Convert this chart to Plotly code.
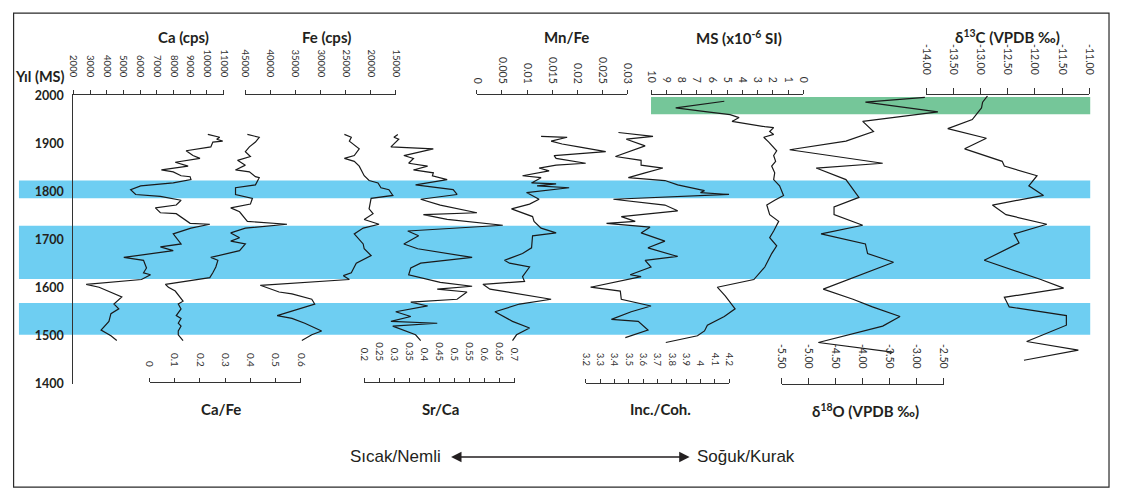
import plotly.graph_objects as go

# page is 1125x503 with an 8px body margin -> figure is 1109x487
PAGE_OFF = 8
W, H = 1125 - 2 * PAGE_OFF, 503 - 2 * PAGE_OFF
FONT = "Lato"

# ---------------- data ----------------
years_axis = [1400, 1500, 1600, 1700, 1800, 1900, 2000]

ca_year = [1919,1913,1909,1905,1903,1893,1885,1875,1869,1861,1853,1845,1841,1833,1831,1825,1818,1812,1804,1794,1790,1782,1772,1766,1756,1754,1734,1732,1724,1712,1691,1685,1677,1663,1657,1641,1631,1627,1617,1607,1601,1581,1566,1556,1546,1530,1512,1500,1490]
ca_val = [10050,10760,10580,10940,10350,10230,8750,9160,9580,8100,8870,7270,7980,8450,8990,9040,7980,6030,5430,5730,7210,8450,8160,6910,7210,8160,8990,10170,9040,7980,8450,7210,7980,5020,6200,6380,6200,6620,6080,2770,3540,4900,4430,4720,4250,4130,3660,4250,4600]

cafe_year = [1919,1913,1903,1893,1883,1873,1865,1855,1845,1841,1831,1829,1814,1808,1794,1786,1774,1766,1758,1738,1732,1724,1714,1704,1697,1691,1677,1663,1657,1643,1631,1621,1607,1601,1593,1572,1566,1556,1542,1536,1526,1520,1510,1502,1490]
cafe_val = [0.388,0.435,0.420,0.396,0.380,0.400,0.349,0.380,0.341,0.396,0.420,0.435,0.420,0.341,0.341,0.408,0.400,0.322,0.357,0.388,0.545,0.380,0.322,0.357,0.322,0.380,0.357,0.243,0.271,0.263,0.251,0.239,0.063,0.075,0.102,0.133,0.114,0.125,0.106,0.125,0.114,0.125,0.114,0.114,0.133]

fe_year = [1919,1913,1905,1889,1875,1869,1863,1853,1833,1823,1818,1808,1804,1792,1786,1764,1754,1742,1732,1724,1712,1691,1681,1667,1651,1631,1625,1617,1605,1591,1587,1576,1566,1542,1536,1526,1510,1502,1490]
fe_val = [25260,23880,24270,22300,23290,25260,23290,22300,21310,20330,18550,17960,16380,15590,19930,20330,19540,21310,18350,21510,23290,21510,21310,19930,22890,23880,25460,24270,42040,38290,35720,31770,31180,38680,35720,33160,29800,31770,33750]

srca_year = [1919,1913,1909,1893,1889,1875,1869,1859,1853,1845,1839,1833,1825,1814,1804,1794,1784,1772,1756,1752,1742,1730,1718,1708,1691,1681,1663,1651,1641,1627,1611,1603,1597,1591,1576,1570,1562,1550,1540,1530,1526,1520,1502,1490]
srca_val = [0.312,0.299,0.315,0.289,0.430,0.332,0.364,0.348,0.411,0.364,0.430,0.427,0.476,0.371,0.496,0.509,0.388,0.453,0.575,0.397,0.476,0.661,0.345,0.381,0.332,0.378,0.559,0.388,0.355,0.348,0.453,0.559,0.443,0.542,0.509,0.355,0.411,0.305,0.355,0.289,0.443,0.295,0.371,0.388]

mnfe_year = [1915,1913,1905,1899,1893,1883,1875,1869,1859,1855,1849,1843,1833,1829,1818,1816,1812,1808,1798,1784,1774,1764,1748,1738,1724,1714,1708,1683,1671,1657,1651,1643,1623,1613,1607,1597,1576,1566,1550,1536,1530,1516,1502,1490]
mnfe_val = [0.0128,0.0180,0.0148,0.0170,0.0203,0.0257,0.0154,0.0158,0.0217,0.0158,0.0124,0.0144,0.0091,0.0128,0.0109,0.0158,0.0120,0.0184,0.0099,0.0124,0.0105,0.0069,0.0111,0.0114,0.0128,0.0158,0.0111,0.0109,0.0091,0.0055,0.0065,0.0105,0.0091,0.0095,0.0012,0.0026,0.0148,0.0085,0.0036,0.0059,0.0071,0.0105,0.0079,0.0071]

inc_year = [1923,1915,1909,1895,1873,1865,1855,1849,1839,1829,1823,1814,1802,1798,1794,1784,1772,1760,1748,1738,1734,1726,1714,1697,1683,1665,1657,1643,1627,1623,1601,1593,1576,1562,1550,1534,1530,1512,1496]
inc_val = [3.428,3.669,3.483,3.614,3.407,3.586,3.586,3.738,3.614,3.497,3.752,3.841,4.028,4.000,4.200,3.393,3.752,3.841,3.448,3.545,3.345,3.648,3.586,3.752,3.634,3.841,3.614,3.655,3.510,3.586,3.234,3.441,3.448,3.655,3.517,3.379,3.566,3.634,3.476]

ms_year = [1988,1974,1966,1960,1954,1946,1935,1933,1925,1919,1913,1903,1885,1875,1863,1853,1839,1825,1812,1792,1782,1772,1752,1738,1718,1704,1687,1671,1643,1617,1601,1583,1556,1540,1522,1510,1500,1486]
ms_val = [5.19,8.38,6.30,4.81,4.22,4.68,2.53,1.95,2.21,1.95,2.60,2.27,1.75,1.95,1.82,2.08,1.88,1.95,1.56,1.30,1.88,2.40,2.21,1.62,1.95,2.21,1.75,2.08,2.53,3.25,5.65,5.13,4.48,5.19,6.30,6.49,6.95,9.03]

d18o_year = [1996,1986,1966,1946,1925,1905,1887,1859,1849,1825,1788,1768,1752,1730,1712,1691,1671,1653,1597,1576,1560,1540,1520,1486,1466,1462]
d18o_val = [-2.85,-3.95,-2.61,-4.00,-3.80,-4.31,-5.35,-3.63,-4.86,-4.31,-4.07,-4.53,-4.53,-4.00,-4.77,-3.95,-3.91,-3.43,-4.73,-4.18,-3.82,-3.31,-3.63,-4.82,-3.45,-3.50]

d13c_year = [1999,1986,1974,1950,1931,1911,1889,1863,1853,1833,1812,1792,1772,1752,1732,1712,1693,1657,1617,1599,1580,1560,1542,1522,1488,1470,1449]
d13c_val = [-12.87,-12.96,-12.98,-13.15,-13.60,-12.89,-13.29,-12.60,-12.56,-11.96,-12.11,-11.84,-12.78,-12.53,-11.78,-12.38,-12.29,-12.93,-11.89,-11.47,-12.56,-12.47,-11.42,-11.42,-12.15,-11.20,-12.20]

blue_bands = [(1786, 1823), (1618, 1729), (1502, 1568)]
green_band = (1961, 1997)

# tick values / labels
ca_ticks = [2000,3000,4000,5000,6000,7000,8000,9000,10000,11000]
ca_labels = [str(v) for v in ca_ticks]
fe_ticks = [45000,40000,35000,30000,25000,20000,15000]
fe_labels = [str(v) for v in fe_ticks]
mnfe_ticks = [0,0.005,0.01,0.015,0.02,0.025,0.03]
mnfe_labels = ["0","0.005","0.01","0.015","0.02","0.025","0.03"]
ms_ticks = [10,9,8,7,6,5,4,3,2,1,0]
ms_labels = [str(v) for v in ms_ticks]
d13c_ticks = [-14,-13.5,-13,-12.5,-12,-11.5,-11]
d13c_labels = ["-14.00","-13.50","-13.00","-12.50","-12.00","-11.50","-11.00"]
cafe_ticks = [0,0.1,0.2,0.3,0.4,0.5,0.6]
cafe_labels = ["0","0.1","0.2","0.3","0.4","0.5","0.6"]
srca_ticks = [0.2,0.25,0.3,0.35,0.4,0.45,0.5,0.55,0.6,0.65,0.7]
srca_labels = ["0.2","0.25","0.3","0.35","0.4","0.45","0.5","0.55","0.6","0.65","0.7"]
inc_ticks = [3.2,3.3,3.4,3.5,3.6,3.7,3.8,3.9,4.0,4.1,4.2]
inc_labels = ["3.2","3.3","3.4","3.5","3.6","3.7","3.8","3.9","4","4.1","4.2"]
d18o_ticks = [-5.5,-5.0,-4.5,-4.0,-3.5,-3.0,-2.5]
d18o_labels = ["-5.50","-5.00","-4.50","-4.00","-3.50","-3.00","-2.50"]

# ---------------- helpers (page pixel -> paper fraction) ----------------
def fx(p):
    return (p - PAGE_OFF) / W

def fy(p):
    return 1 - (p - PAGE_OFF) / H

AX_COL = "#333333"
TXT_COL = "#231f20"

def xaxis(dom, rng, tv, tt, size=9.5, standoff=8, ticklen=4, position=None):
    d = dict(domain=[fx(dom[0]), fx(dom[1])], range=rng, side="top", anchor="y",
             tickmode="array", tickvals=tv, ticktext=tt, tickangle=90,
             ticks="outside", ticklen=ticklen, tickwidth=1, tickcolor=AX_COL,
             showline=True, linecolor=AX_COL, linewidth=1,
             showgrid=False, zeroline=False, fixedrange=True,
             tickfont=dict(family=FONT, size=size, color=AX_COL),
             ticklabelstandoff=standoff)
    if position is not None:
        d.update(anchor="free", position=position)
    return d

fig = go.Figure()

series = [
    ("x", ca_val, ca_year),
    ("x2", fe_val, fe_year),
    ("x3", mnfe_val, mnfe_year),
    ("x4", ms_val, ms_year),
    ("x5", d13c_val, d13c_year),
    ("x6", cafe_val, cafe_year),
    ("x7", srca_val, srca_year),
    ("x8", inc_val, inc_year),
    ("x9", d18o_val, d18o_year),
]
for xa, xs, ys in series:
    fig.add_trace(go.Scatter(x=xs, y=ys, xaxis=xa, yaxis="y", mode="lines",
                             line=dict(color="#1a1a1a", width=1.2),
                             hoverinfo="skip", showlegend=False))

shapes = []
for y0, y1 in blue_bands:
    shapes.append(dict(type="rect", xref="paper", yref="y", x0=fx(14), x1=fx(1097),
                       y0=y0, y1=y1, fillcolor="rgb(110,206,242)", line=dict(width=0),
                       layer="below"))
shapes.append(dict(type="rect", xref="paper", yref="y", x0=fx(653), x1=fx(1097),
                   y0=green_band[0], y1=green_band[1], fillcolor="rgb(117,198,153)",
                   line=dict(width=0), layer="below"))
shapes.append(dict(type="rect", xref="paper", yref="paper", x0=fx(8.6), x1=fx(1116),
                   y0=fy(494), y1=fy(5), line=dict(color="#2a2a2a", width=1.2),
                   fillcolor="rgba(0,0,0,0)", layer="below"))

ann = []
def title(txt, x, y, size=15):
    ann.append(dict(text=txt, x=fx(x), y=fy(y), xref="paper", yref="paper",
                    showarrow=False, xanchor="center", yanchor="middle",
                    font=dict(family=FONT, size=size, color=TXT_COL, weight="bold")))

title("Ca (cps)", 180, 30)
title("Fe (cps)", 325, 30)
title("Mn/Fe", 568, 30)
title("MS (x10<sup>-6</sup> SI)", 742, 30)
title("δ<sup>13</sup>C (VPDB ‰)", 1013, 29)
title("Ca/Fe", 218, 413)
title("Sr/Ca", 440, 413)
title("Inc./Coh.", 663, 413)
title("δ<sup>18</sup>O (VPDB ‰)", 870, 415)
title("Yıl (MS)", 35, 70, size=14.5)

ann.append(dict(text="Sıcak/Nemli", x=fx(443), y=fy(463), xref="paper", yref="paper",
                showarrow=False, xanchor="right", yanchor="middle",
                font=dict(family="Liberation Sans", size=17, color=TXT_COL)))
ann.append(dict(text="Soğuk/Kurak", x=fx(697), y=fy(463), xref="paper", yref="paper",
                showarrow=False, xanchor="left", yanchor="middle",
                font=dict(family="Liberation Sans", size=17, color=TXT_COL)))
ann.append(dict(text="", x=fx(692), y=fy(463), xref="paper", yref="paper",
                ax=-(692 - 452), ay=0, axref="pixel", ayref="pixel",
                showarrow=True, arrowhead=2, arrowside="end+start", arrowsize=1.3,
                arrowwidth=1.6, arrowcolor=TXT_COL))

fig.update_layout(
    width=W, height=H, margin=dict(l=0, r=0, t=0, b=0),
    paper_bgcolor="white", plot_bgcolor="rgba(0,0,0,0)",
    showlegend=False, shapes=shapes, annotations=ann,
    yaxis=dict(domain=[fy(387.5), fy(90)], range=[1400, 2000], anchor="x",
               tickmode="array", tickvals=years_axis, ticks="", showline=True,
               linecolor=AX_COL, linewidth=1, showgrid=False, zeroline=False,
               fixedrange=True, ticklabelstandoff=6,
               tickfont=dict(family=FONT, size=12.5, color=TXT_COL, weight="bold")),
    xaxis=xaxis((69, 221), [2000, 11000], ca_ticks, ca_labels, size=9.5, standoff=10),
    xaxis2=xaxis((243, 395), [45000, 15000], fe_ticks, fe_labels, size=9.5, standoff=10),
    xaxis3=xaxis((477, 629), [0, 0.03], mnfe_ticks, mnfe_labels, size=10.5, standoff=3),
    xaxis4=xaxis((653, 807), [10, 0], ms_ticks, ms_labels, size=10.5, standoff=4),
    xaxis5=xaxis((931, 1096), [-14, -11], d13c_ticks, d13c_labels, size=10.5, standoff=10, ticklen=6),
    xaxis6=xaxis((146, 299), [0, 0.6], cafe_ticks, cafe_labels, size=10, standoff=8, position=fy(386)),
    xaxis7=xaxis((363, 515), [0.2, 0.7], srca_ticks, srca_labels, size=9.5, standoff=14, position=fy(386)),
    xaxis8=xaxis((587, 732), [3.2, 4.2], inc_ticks, inc_labels, size=9.5, standoff=10, position=fy(387)),
    xaxis9=xaxis((785, 949), [-5.5, -2.5], d18o_ticks, d18o_labels, size=10.5, standoff=6, ticklen=6, position=fy(388)),
)

fig.write_html("out.html")
